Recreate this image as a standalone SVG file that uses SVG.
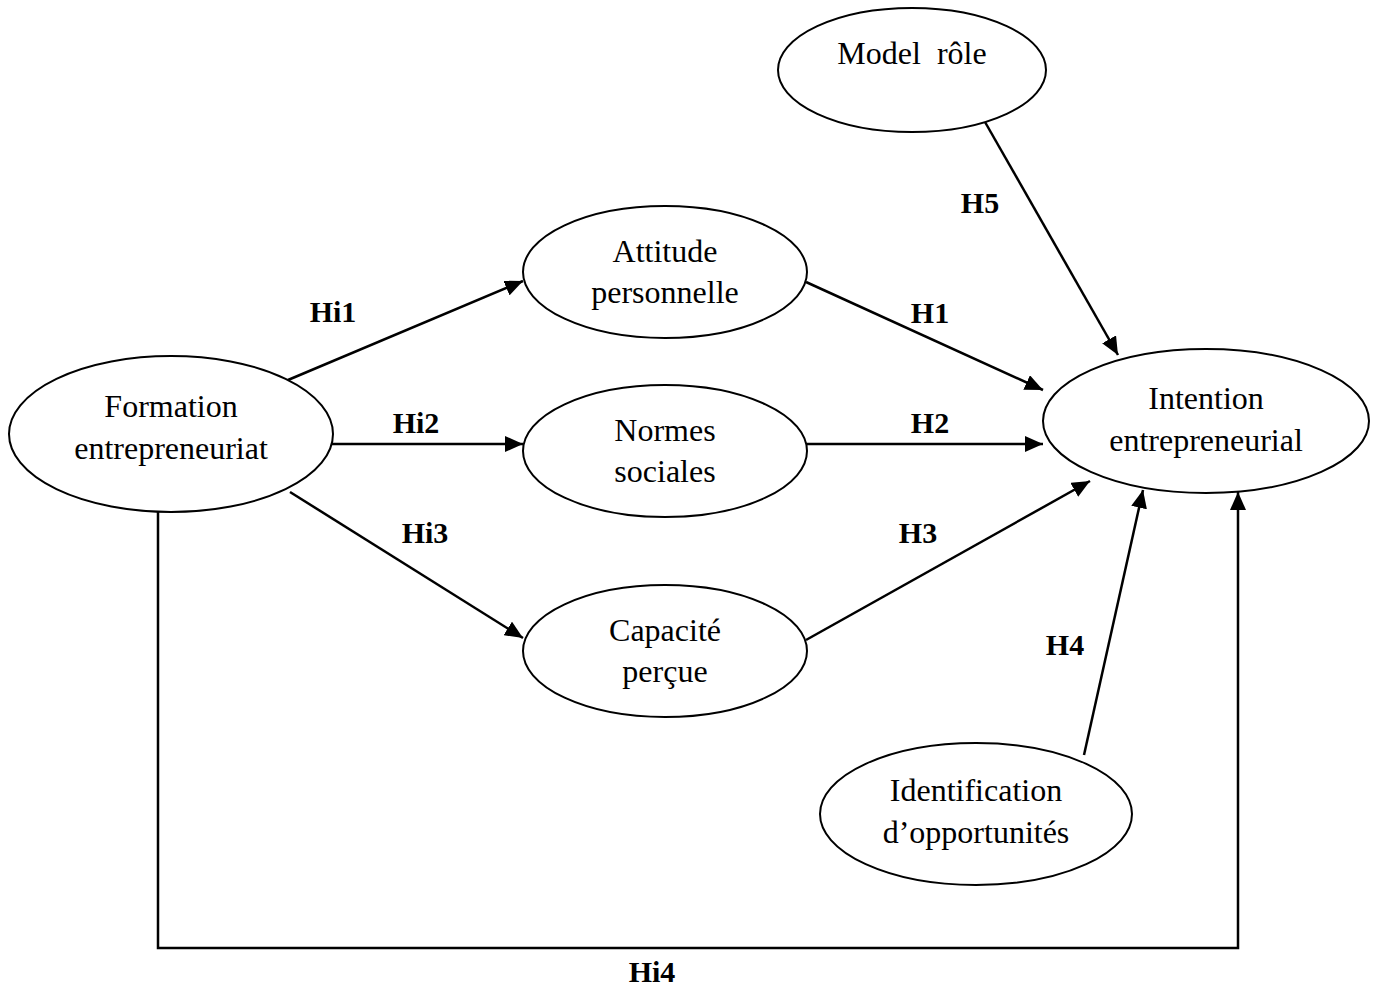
<svg xmlns="http://www.w3.org/2000/svg" width="1374" height="989" viewBox="0 0 1374 989">
<style>
.node ellipse{fill:#fff;stroke:#000;stroke-width:2}
.node text{font-family:"Liberation Serif","Times New Roman",serif;font-size:32px;text-anchor:middle;fill:#000}
.lbl{font-family:"Liberation Serif","Times New Roman",serif;font-size:30px;font-weight:bold;text-anchor:middle;fill:#000}
.conn{stroke:#000;stroke-width:2.5;fill:none;marker-end:url(#ah)}
</style>
<defs>
<marker id="ah" markerUnits="userSpaceOnUse" markerWidth="20" markerHeight="16" refX="18" refY="8" orient="auto">
<path d="M0,0 L18,8 L0,16 z" fill="#000"/>
</marker>
</defs>
<rect width="1374" height="989" fill="#fff"/>
<g id="connectors">
<line class="conn" x1="288" y1="380" x2="523" y2="281"/>
<line class="conn" x1="330" y1="444" x2="523" y2="444"/>
<line class="conn" x1="290" y1="492" x2="523" y2="638"/>
<line class="conn" x1="806" y1="282" x2="1043" y2="390"/>
<line class="conn" x1="806" y1="444" x2="1043" y2="444"/>
<line class="conn" x1="806" y1="640" x2="1090" y2="481"/>
<line class="conn" x1="985" y1="122" x2="1118" y2="355"/>
<line class="conn" x1="1084" y1="755" x2="1143" y2="490"/>
<polyline class="conn" points="158,512 158,948 1238,948 1238,492"/>
</g>
<g id="labels">
<text class="lbl" x="333" y="322">Hi1</text>
<text class="lbl" x="416" y="433">Hi2</text>
<text class="lbl" x="425" y="543">Hi3</text>
<text class="lbl" x="930" y="323">H1</text>
<text class="lbl" x="930" y="433">H2</text>
<text class="lbl" x="918" y="543">H3</text>
<text class="lbl" x="980" y="213">H5</text>
<text class="lbl" x="1065" y="655">H4</text>
<text class="lbl" x="652" y="982">Hi4</text>
</g>
<g id="formation" class="node">
<ellipse cx="171" cy="434" rx="162" ry="78"/>
<text x="171" y="417">Formation</text>
<text x="171" y="459">entrepreneuriat</text>
</g>
<g id="model" class="node">
<ellipse cx="912" cy="70" rx="134" ry="62"/>
<text x="912" y="64" xml:space="preserve">Model  rôle</text>
</g>
<g id="attitude" class="node">
<ellipse cx="665" cy="272" rx="142" ry="66"/>
<text x="665" y="262">Attitude</text>
<text x="665" y="303">personnelle</text>
</g>
<g id="normes" class="node">
<ellipse cx="665" cy="451" rx="142" ry="66"/>
<text x="665" y="441">Normes</text>
<text x="665" y="482">sociales</text>
</g>
<g id="capacite" class="node">
<ellipse cx="665" cy="651" rx="142" ry="66"/>
<text x="665" y="641">Capacité</text>
<text x="665" y="682">perçue</text>
</g>
<g id="intention" class="node">
<ellipse cx="1206" cy="421" rx="163" ry="72"/>
<text x="1206" y="409">Intention</text>
<text x="1206" y="451">entrepreneurial</text>
</g>
<g id="identification" class="node">
<ellipse cx="976" cy="814" rx="156" ry="71"/>
<text x="976" y="801">Identification</text>
<text x="976" y="843">d’opportunités</text>
</g>
</svg>
